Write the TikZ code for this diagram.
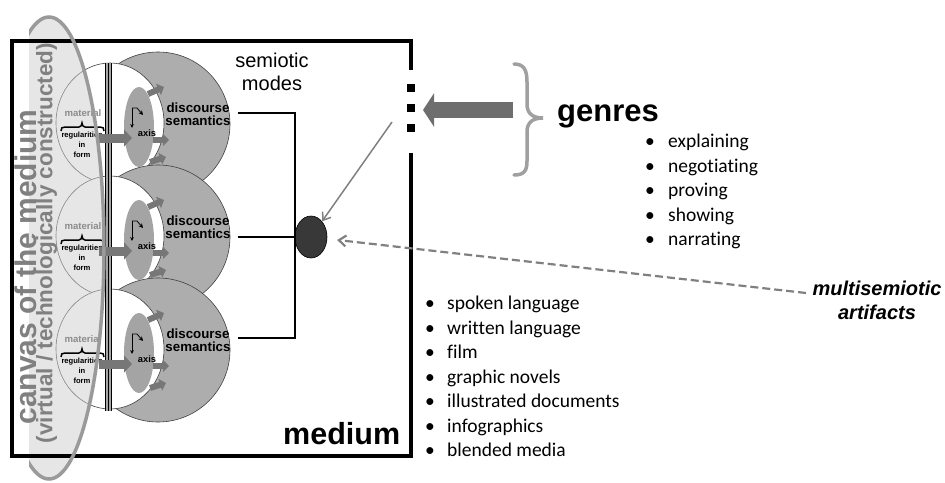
\documentclass[tikz,border=0pt]{standalone}
\usepackage{fontspec}
\setmainfont{Liberation Sans}
\newfontfamily\bodyfont[Ligatures=NoCommon]{Carlito}
\usetikzlibrary{arrows.meta,shapes.geometric}

\newcommand\setfs[2]{\fontsize{#1}{#2}\selectfont}

\definecolor{unitgray}{HTML}{ADADAD}
\definecolor{axisgray}{HTML}{A4A4A4}
\definecolor{blockgray}{HTML}{777777}
\definecolor{canvasgray}{HTML}{808080}
\definecolor{tintgray}{HTML}{CECECE}
\definecolor{outlinegray}{HTML}{9A9A9A}
\definecolor{bracegray}{HTML}{A0A0A0}
\definecolor{junctiongray}{HTML}{383838}
\definecolor{matgray}{HTML}{8C8C8C}
\definecolor{genrearrow}{HTML}{6E6E6E}

\begin{document}
\begin{tikzpicture}[x=1pt,y=-1pt,
  blockarrow/.style={line width=6pt, blockgray, -{Triangle[length=6pt,width=12pt]}},
  bigblock/.style={line width=9pt, blockgray, -{Triangle[length=8pt,width=17pt]}},
  conn/.style={line width=1.8pt, black},
  thinarrow/.style={line width=1.5pt, canvasgray, -{Straight Barb[length=7pt,width=10pt]}},
  dasharrow/.style={line width=2.2pt, canvasgray, dash pattern=on 8pt off 4pt,
                    -{Straight Barb[length=7pt,width=11pt]}, shorten >=10pt},
  plain/.style={inner sep=0pt},
  listitem/.style={anchor=base west, inner sep=0pt, font=\bodyfont\setfs{19.5}{24}}]

\useasboundingbox (0,0) rectangle (945,482);

% ---- the three semiotic mode units: shapes ----
\foreach \i/\y in {1/124,2/237,3/350}{
  \draw[draw=black!75, line width=0.6pt, fill=unitgray] (158,\y) circle[radius=72pt];
  \draw[draw=black!75, line width=0.6pt, fill=white] (110,\y-1) ellipse[x radius=54pt, y radius=60pt];
  \fill[axisgray] (139,\y+3) ellipse[x radius=15pt, y radius=40pt];
  \draw[blockarrow] (148,\y-30) -- (164,\y-37);
  \draw[blockarrow] (153,\y+16) -- (169,\y+16);
  \draw[blockarrow] (150,\y+38) -- (166,\y+33);
}

% ---- tint of the canvas band ----
\begin{scope}
  \clip (29,0) rectangle (200,482);
  \fill[tintgray, fill opacity=0.5] (49,248) ellipse[x radius=55pt, y radius=231pt];
\end{scope}

% ---- divider bar through the units ----
\fill[black!35] (105.5,63) rectangle (111.5,411);
\foreach \bx in {105.5,108.5,111.5}
  \draw[line width=1.1pt] (\bx,63) -- (\bx,411);

% ---- unit labels and inner marks ----
\foreach \i/\y in {1/124,2/237,3/350}{
  \node[plain, font=\bfseries\setfs{9.6}{10}, text=matgray] (mat\i) at (83,\y-11) {material};
  \draw[line width=1.5pt] (61,\y+7) .. controls (61,\y+4) and (62,\y+3) .. (65,\y+3)
     -- (79,\y+3) .. controls (81,\y+3) and (82,\y+1) .. (82,\y-1)
     .. controls (82,\y+1) and (83,\y+3) .. (85,\y+3)
     -- (100,\y+3) .. controls (103,\y+3) and (104,\y+4) .. (104,\y+7);
  \node[plain, font=\bfseries\setfs{7.6}{10}, align=center] (reg\i) at (82,\y+21) {regularities\\in\\form};
  \draw[bigblock] (99,\y+14) -- (132,\y+14);
  \node[plain, font=\bfseries\setfs{9.3}{10}] (axis\i) at (147,\y+9) {axis};
  \draw[line width=0.8pt, -{Stealth[length=4pt,width=3.6pt]}] (132,\y-16) -- (132,\y+4);
  \draw[line width=0.8pt, -{Stealth[length=4.5pt,width=4.5pt]}] (132,\y-16) -- (137,\y-16) -- (143,\y-9);
  \node[plain, font=\bfseries\setfs{13.3}{13.5}, align=center] (ds\i) at (198,\y-10) {discourse\\semantics};
}

% ---- medium frame with the opening on the right ----
\draw[line width=4pt, line join=miter] (411,70) -- (411,41) -- (12,41) -- (12,456) -- (411,456) -- (411,153);
\foreach \k/\sy in {1/88,2/108,3/128}
  \node[fill=black, minimum size=7.5pt, inner sep=0pt] (gap\k) at (411,\sy) {};

% ---- canvas outline ----
\begin{scope}
  \clip (29,0) rectangle (200,482);
  \draw[outlinegray, line width=3.5pt] (49,248) ellipse[x radius=55pt, y radius=231pt];
\end{scope}

% ---- junction of the modes ----
\node[ellipse, draw=black, line width=0.6pt, fill=junctiongray,
      minimum width=32pt, minimum height=42pt, inner sep=0pt] (junc) at (311,237) {};
\draw[conn] ([xshift=7pt]ds1.east |- 0,113) -- (junc.west |- 0,113) -- (junc.west |- 0,338) -- ([xshift=7pt]ds3.east |- 0,338);
\draw[conn] ([xshift=7pt]ds2.east |- junc.west) -- (junc.west);

\node[plain, font=\setfs{20}{23}, align=center] (modes) at (272,72) {semiotic\\modes};
\node[plain, anchor=base west, font=\bfseries\setfs{30.5}{31}] (medium) at (283,444) {medium};

% ---- genres ----
\coordinate (gapfoot) at (392,122);
\draw[thinarrow] (gapfoot) -- (junc);
\coordinate (gstart) at (513,110);
\coordinate (gtip) at (423,110);
\draw[line width=16pt, genrearrow, -{Triangle[length=11pt,width=33pt]}] (gstart) -- (gtip);
\draw[bracegray, line width=3.5pt, line cap=round]
  (514,64) .. controls (524,64) and (527,70) .. (527,82) -- (527,104)
  .. controls (527,113) and (532,118) .. (543,118)
  .. controls (532,118) and (527,123) .. (527,132) -- (527,161)
  .. controls (527,171) and (524,175) .. (514,175);
\node[plain, anchor=base west, font=\bfseries\setfs{31}{31}] (genres) at (557,121) {genres};
\foreach \t [count=\k] in {explaining,negotiating,proving,showing,narrating}
  \node[listitem] (genre\k) at (645,{147.5+24.5*(\k-1)}) {\makebox[23pt][l]{\textbullet}\t};

% ---- media list ----
\foreach \t [count=\k] in {spoken language,written language,film,graphic novels,illustrated documents,infographics,blended media}
  \node[listitem] (media\k) at (425,{309.5+24.5*(\k-1)}) {\makebox[22pt][l]{\textbullet}\t};

% ---- multisemiotic artifacts ----
\node[plain, font=\bfseries\itshape\setfs{20}{24}, align=center] (multi) at (877,300) {multisemiotic\\artifacts};
\coordinate (mstart) at (806,293);
\draw[dasharrow] (mstart) -- (junc);

% ---- canvas labels ----
\node[plain, rotate=90, font=\bfseries\setfs{30}{30}, text=canvasgray] (canvas1) at (25.5,267) {canvas of the medium};
\node[plain, rotate=90, font=\bfseries\setfs{22.5}{22.5}, text=canvasgray] (canvas2) at (46.5,243) {(virtual / technologically constructed)};

\end{tikzpicture}
\end{document}
